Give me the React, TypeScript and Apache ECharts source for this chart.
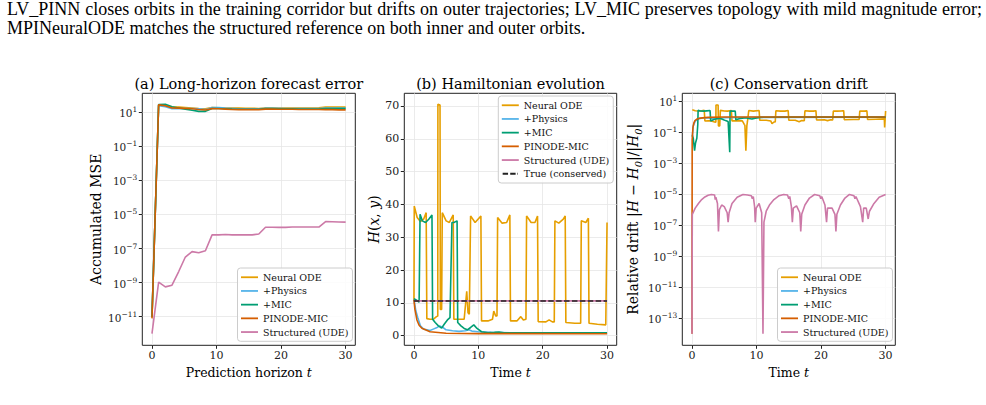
import React, { useEffect, useRef } from 'react';
import * as echarts from 'echarts';

const SERIF = "'DejaVu Serif', serif";
const NAMES = ['Neural ODE', '+Physics', '+MIC', 'PINODE-MIC', 'Structured (UDE)'];
const TRUE_NAME = 'True (conserved)';
const COLORS = ['#E69F00', '#56B4E9', '#009E73', '#D55E00', '#CC79A7'];

const CAPTION_1 =
  'LV_PINN closes orbits in the training corridor but drifts on outer trajectories; LV_MIC preserves topology with mild magnitude error;';
const CAPTION_2 = 'MPINeuralODE matches the structured reference on both inner and outer orbits.';

const TITLES = ['(a) Long-horizon forecast error', '(b) Hamiltonian evolution', '(c) Conservation drift'];

const X_TICKS = [0, 10, 20, 30];
const A_TICKS = [-11, -9, -7, -5, -3, -1, 1]; // log10 of accumulated MSE
const B_TICKS = [0, 10, 20, 30, 40, 50, 60, 70];
const C_TICKS = [-13, -11, -9, -7, -5, -3, -1, 1]; // log10 of relative drift

// (a) prediction horizon and log10 accumulated MSE
const horizon = [0, 1.03, 2.07, 3.1, 4.14, 5.17, 6.21, 7.24, 8.28, 9.31, 10.34, 11.38, 12.41, 13.45, 14.48, 15.52,
  16.55, 17.59, 18.62, 19.66, 20.69, 21.72, 22.76, 23.79, 24.83, 25.86, 26.9, 27.93, 28.97, 30];
const mseNeural = [-11.0, 1.42, 1.38, 1.32, 1.3, 1.28, 1.25, 1.22, 1.2, 1.27, 1.26, 1.25, 1.24, 1.24, 1.23, 1.23,
  1.22, 1.25, 1.25, 1.25, 1.25, 1.25, 1.25, 1.25, 1.25, 1.26, 1.3, 1.3, 1.3, 1.3];
const msePhysics = [-11.0, 1.38, 1.32, 1.2, 1.2, 1.22, 1.22, 1.2, 1.15, 1.27, 1.27, 1.24, 1.22, 1.2, 1.2, 1.2,
  1.2, 1.23, 1.23, 1.23, 1.22, 1.22, 1.22, 1.22, 1.22, 1.22, 1.24, 1.24, 1.24, 1.24];
const mseMic = [-11.0, 1.45, 1.47, 1.32, 1.25, 1.18, 1.12, 1.05, 1.05, 1.22, 1.22, 1.2, 1.18, 1.17, 1.17, 1.17,
  1.17, 1.21, 1.21, 1.2, 1.2, 1.2, 1.19, 1.19, 1.19, 1.19, 1.22, 1.22, 1.22, 1.21];
const msePinode = [-11.1, 1.43, 1.38, 1.25, 1.24, 1.22, 1.2, 1.16, 1.13, 1.21, 1.2, 1.18, 1.16, 1.15, 1.15, 1.15,
  1.15, 1.18, 1.18, 1.17, 1.17, 1.17, 1.16, 1.16, 1.16, 1.16, 1.15, 1.15, 1.14, 1.14];
const mseUde = [-12.0, -8.97, -9.25, -9.15, -8.35, -7.5, -7.18, -7.25, -7.13, -6.2, -6.2, -6.18, -6.2, -6.2, -6.2,
  -6.2, -6.15, -5.75, -5.75, -5.76, -5.76, -5.74, -5.74, -5.74, -5.74, -5.74, -5.42, -5.43, -5.44, -5.45];

// (b) [time, H(x,y)]
const hNeural = [[0, 10.6], [0.05, 39.5], [0.5, 36], [1.0, 34.8], [1.5, 35.5], [1.9, 37.5], [2.0, 5.2], [2.5, 5.0],
  [3.0, 5.0], [3.5, 5.8], [3.7, 6], [3.72, 70.5], [4.05, 70.3], [4.1, 8], [4.3, 8], [4.4, 37.5], [5, 35], [5.5, 34.5],
  [6.1, 36.8], [6.2, 5], [7, 5], [7.8, 5], [8.2, 13.5], [8.4, 7], [8.6, 6.5], [8.8, 36.5], [9.5, 34.5], [10.4, 36.5],
  [10.5, 4.5], [11.5, 4.5], [12.2, 5], [12.4, 7.5], [12.7, 6], [12.9, 6], [13.0, 36], [13.7, 34.3], [14.4, 34.5],
  [14.9, 36.8], [15.0, 4.5], [16, 4.5], [16.6, 5.8], [17.0, 4.8], [17.4, 5], [17.5, 36.5], [18.2, 34.5], [18.8, 34.5],
  [19.2, 36.5], [19.3, 4.3], [20.5, 4.2], [21, 4.8], [21.5, 4.2], [21.8, 4.2], [21.9, 35], [22.5, 34.3], [23.2, 35.5],
  [23.5, 36.5], [23.6, 4], [25, 3.8], [25.9, 3.8], [26.0, 35], [26.7, 34.5], [27.1, 35.8], [27.2, 3.8], [28.5, 3.5],
  [29.8, 3.3], [30, 34.5]];
const hPhysics = [[0, 11.1], [0.3, 7.5], [0.6, 5.5], [1.0, 3], [1.5, 2], [2.0, 1.8], [2.5, 1.6], [3.0, 2.0], [3.5, 2.4],
  [4.0, 3.0], [4.5, 2.5], [5.0, 1.8], [6, 1.5], [7, 1.3], [8, 1.5], [8.5, 1.8], [9, 1.4], [10, 1.2], [12, 1.0],
  [15, 0.9], [30, 0.85]];
const hMic = [[0, 11.3], [0.4, 10.8], [0.8, 10.2], [0.95, 37], [1.3, 35], [1.8, 34.5], [2.3, 35.5], [2.8, 36.8],
  [2.9, 5], [3.3, 4], [3.8, 3], [4.3, 2.3], [4.7, 3.5], [5.2, 4.8], [5.6, 5.5], [5.9, 34.5], [6.2, 34.5], [6.7, 35],
  [6.8, 4], [7.3, 3], [7.8, 2.2], [8.3, 1.8], [8.8, 2.5], [9.3, 3.3], [9.8, 2.2], [10.5, 1.2], [11.5, 0.9],
  [12.5, 1.0], [13.2, 1.1], [14, 0.9], [30, 0.85]];
const hPinode = [[0, 10.9], [0.15, 8], [0.46, 4.8], [0.8, 3.2], [1.24, 2.25], [2.5, 1.2], [5, 0.75], [10, 0.62],
  [30, 0.6]];
const hUde = [[0, 10.62], [10, 10.62], [20, 10.62], [30, 10.62]];
const hTrue = [[0, 10.6], [30, 10.6]];

// (c) [time, log10 relative drift]
const dNeural = [[0.05, 0.44], [0.5, 0.38], [1.0, 0.36], [1.5, 0.37], [1.9, 0.40], [2.0, -0.29], [2.5, -0.28],
  [3.0, -0.28], [3.5, -0.35], [3.7, -0.37], [3.72, 0.75], [4.05, 0.75], [4.1, -0.61], [4.3, -0.61], [4.4, 0.40],
  [5, 0.36], [5.5, 0.35], [6.1, 0.39], [6.2, -0.28], [7, -0.28], [7.8, -0.28], [8.1, -0.5], [8.2, -0.57],
  [8.35, -2.2], [8.5, -0.6], [8.6, -0.3], [8.8, 0.39], [9.5, 0.35], [10.4, 0.39], [10.5, -0.24], [11.5, -0.24],
  [12.2, -0.28], [12.4, -0.46], [12.7, -0.35], [12.9, -0.35], [13.0, 0.38], [13.7, 0.35], [14.4, 0.35], [14.9, 0.39],
  [15.0, -0.24], [16, -0.24], [16.6, -0.33], [17.0, -0.26], [17.4, -0.27], [17.5, 0.38], [18.2, 0.35], [18.8, 0.35],
  [19.2, 0.38], [19.3, -0.22], [20.5, -0.21], [21, -0.26], [21.5, -0.21], [21.8, -0.21], [21.9, 0.36], [22.5, 0.35],
  [23.2, 0.37], [23.5, 0.38], [23.6, -0.2], [25, -0.19], [25.9, -0.19], [26.0, 0.36], [26.7, 0.35], [27.1, 0.37],
  [27.2, -0.19], [28.5, -0.17], [29.8, -0.15], [29.85, -0.7], [30, 0.36]];
const dPhysics = [[0.05, -1.3], [0.2, -0.6], [0.5, -0.3], [1.0, -0.14], [2, -0.08], [3, -0.1], [4, -0.14], [5, -0.08],
  [7, -0.06], [10, -0.05], [30, -0.035]];
const dMic = [[0.05, -1.2], [0.2, -1.4], [0.4, -2.2], [0.55, -1.7], [0.75, -1.4], [0.9, -0.5], [0.95, 0.40],
  [1.3, 0.36], [1.8, 0.35], [2.3, 0.37], [2.8, 0.39], [2.9, -0.28], [3.3, -0.21], [3.8, -0.14], [4.3, -0.11],
  [4.7, -0.17], [5.2, -0.26], [5.6, -0.32], [5.85, -2.3], [5.9, 0.35], [6.2, 0.35], [6.7, 0.36], [6.8, -0.21],
  [7.3, -0.14], [7.8, -0.1], [8.3, -0.08], [8.8, -0.12], [9.3, -0.16], [9.8, -0.1], [10.5, -0.05], [12, -0.04],
  [14, -0.035], [30, -0.035]];
const dPinode = [[0, -14], [0.03, -1.5], [0.15, -0.7], [0.3, -0.4], [0.46, -0.26], [0.8, -0.15], [1.24, -0.1],
  [2.5, -0.05], [5, -0.03], [10, -0.027], [30, -0.025]];
const dUde = [[0, -14], [0.05, -6.3], [0.5, -5.9], [1, -5.6], [1.5, -5.35], [2, -5.18], [2.5, -5.07], [3, -5.02],
  [3.5, -5.05], [3.6, -5.35], [3.7, -5.2], [3.95, -5.6], [4.1, -7.4], [4.25, -6.0], [4.6, -5.7], [5, -5.8],
  [5.45, -6.2], [5.6, -6.8], [5.75, -6.2], [6.2, -5.6], [7, -5.2], [7.9, -5.02], [8.6, -5.05], [9.2, -5.1],
  [9.35, -5.3], [9.5, -5.15], [9.7, -5.8], [9.8, -6.8], [9.95, -5.9], [10.4, -5.6], [10.8, -6.2], [11.0, -14],
  [11.15, -6.8], [11.5, -6.1], [12, -5.7], [12.7, -5.35], [13.5, -5.1], [14.2, -5.02], [14.8, -5.05], [15.0, -5.3],
  [15.15, -5.15], [15.4, -5.8], [15.55, -6.8], [15.7, -5.9], [16.2, -5.75], [16.7, -6.2], [16.85, -7.4], [17.0, -6.3],
  [17.5, -5.7], [18.2, -5.25], [19.0, -5.02], [19.8, -5.1], [19.95, -5.3], [20.1, -5.15], [20.6, -5.7], [20.85, -6.8],
  [21.0, -5.9], [21.7, -5.9], [22.15, -6.3], [22.3, -7.4], [22.45, -6.3], [23, -5.7], [23.7, -5.25], [24.4, -5.02],
  [25.1, -5.1], [25.25, -5.3], [25.4, -5.15], [26.1, -5.8], [26.45, -6.8], [26.6, -5.9], [27.0, -5.9], [27.3, -6.6],
  [27.5, -6.1], [28.2, -5.6], [29, -5.2], [30, -5.02]];

const GRIDS = [
  { left: 142.3, top: 93.3, width: 213, height: 252 },
  { left: 404.3, top: 93.3, width: 212.4, height: 252 },
  { left: 682.3, top: 93.3, width: 213, height: 252 },
];

const TICK_COLOR = '#222';
const GRID_LINE = { show: true, lineStyle: { color: '#e6e6e6', width: 0.8 } };
const DASH_ICON = 'path://M0,0H6V2H0Z M8.4,0H14.4V2H8.4Z M16.4,0H17V2H16.4Z';

function pow10Label(v: number) {
  const n = Math.round(v);
  const s = n < 0 ? '\u2212' + Math.abs(n) : String(n);
  return `{b|10}{s|${s}}`;
}

const POW_RICH = {
  b: { fontFamily: SERIF, fontSize: 10.5, color: TICK_COLOR, verticalAlign: 'bottom' },
  s: { fontFamily: SERIF, fontSize: 7.5, color: TICK_COLOR, verticalAlign: 'top', padding: [0, 0, 5, 0] },
};

function nameRich(size: number) {
  return {
    r: { fontFamily: SERIF, fontSize: size, color: '#000', verticalAlign: 'top' },
    i: { fontFamily: SERIF, fontSize: size, color: '#000', fontStyle: 'italic', verticalAlign: 'top' },
    sub: { fontFamily: SERIF, fontSize: size * 0.7, color: '#000', fontStyle: 'italic', verticalAlign: 'top', padding: [size * 0.5, 0, 0, 0] },
  };
}

function xAxis(i: number, name: string) {
  return {
    gridIndex: i, type: 'value', min: -1.5, max: 31.5,
    axisLine: { show: false, onZero: false },
    axisTick: { show: true, length: 3.5, customValues: X_TICKS, lineStyle: { color: TICK_COLOR } },
    axisLabel: { customValues: X_TICKS, fontFamily: SERIF, fontSize: 11, color: TICK_COLOR, margin: 5 },
    splitLine: GRID_LINE,
    name, nameLocation: 'middle', nameGap: 17, nameTextStyle: { rich: nameRich(12.5) },
  };
}

function yAxis(i: number, min: number, max: number, ticks: number[], log: boolean, name: string, gap: number) {
  return {
    gridIndex: i, type: 'value', min, max,
    axisLine: { show: false, onZero: false },
    axisTick: { show: true, length: 3.5, customValues: ticks, lineStyle: { color: TICK_COLOR } },
    axisLabel: log
      ? { customValues: ticks, formatter: pow10Label, rich: POW_RICH, margin: 5 }
      : { customValues: ticks, fontFamily: SERIF, fontSize: 11, color: TICK_COLOR, margin: 5 },
    splitLine: GRID_LINE,
    name, nameLocation: 'middle', nameGap: gap, nameTextStyle: { rich: nameRich(14) },
  };
}

function line(name: string, color: string, i: number, data: number[][], extra: any = {}) {
  return {
    type: 'line', name, xAxisIndex: i, yAxisIndex: i, data, symbol: 'none', showSymbol: false,
    lineStyle: { color, width: 1.6, ...(extra.lineStyle || {}) }, itemStyle: { color },
    z: extra.z || 2, silent: true,
  };
}

function legend(left: number, top: number, names: string[]) {
  return {
    orient: 'vertical', left, top, itemWidth: 17, itemHeight: 1.8, itemGap: 1.2, icon: 'rect',
    padding: [3, 4, 3, 3.5], backgroundColor: 'rgba(255,255,255,0.85)', borderColor: '#cccccc', borderWidth: 1,
    borderRadius: 3, selectedMode: false,
    data: names.map((n) => (n === TRUE_NAME ? { name: n, icon: DASH_ICON } : { name: n })),
    textStyle: { fontFamily: SERIF, fontSize: 9.5, lineHeight: 12.5, color: '#111' },
  };
}

export default function App() {
  const ref = useRef<HTMLDivElement>(null);
  useEffect(() => {
    const chart = echarts.init(ref.current!, null, { renderer: 'svg' });
    const aSeries = [mseNeural, msePhysics, mseMic, msePinode, mseUde].map((arr, k) =>
      line(NAMES[k], COLORS[k], 0, horizon.map((t, j) => [t, arr[j]]), { z: 2 + k }));
    const bSeries = [hNeural, hPhysics, hMic, hPinode, hUde].map((arr, k) => line(NAMES[k], COLORS[k], 1, arr, { z: 2 + k }));
    bSeries.push(line(TRUE_NAME, '#222222', 1, hTrue, { z: 8, lineStyle: { type: [5.5, 2.4], width: 1.5 } }));
    const cSeries = [dNeural, dPhysics, dMic, dPinode, dUde].map((arr, k) => line(NAMES[k], COLORS[k], 2, arr, { z: 2 + k }));

    const option: any = {
      animation: false,
      backgroundColor: '#ffffff',
      grid: GRIDS.map((g) => ({ ...g, show: true, borderColor: '#222', borderWidth: 1, backgroundColor: 'transparent', containLabel: false })),
      xAxis: [
        xAxis(0, '{r|Prediction horizon }{i|t}'),
        xAxis(1, '{r|Time }{i|t}'),
        xAxis(2, '{r|Time }{i|t}'),
      ],
      yAxis: [
        yAxis(0, -12.68, 2.11, A_TICKS, true, '{r|Accumulated MSE}', 39),
        yAxis(1, -2.93, 73.87, B_TICKS, false, '{i|H}{r|(}{i|x}{r|, }{i|y}{r|)}', 20),
        yAxis(2, -14.74, 1.5, C_TICKS, true, '{r|Relative drift |}{i|H}{r| \u2212 }{i|H}{sub|0}{r||/|}{i|H}{sub|0}{r||}', 39),
      ],
      legend: [
        legend(237.5, 268, NAMES),
        legend(498.3, 96, [...NAMES, TRUE_NAME]),
        legend(777.5, 268, NAMES),
      ],
      graphic: TITLES.map((t, i) => ({
        type: 'text', x: GRIDS[i].left + GRIDS[i].width / 2, y: 84,
        style: { text: t, fill: '#000', fontFamily: SERIF, fontSize: 14.5, align: 'center', verticalAlign: 'middle' },
      })),
      series: [...aSeries, ...bSeries, ...cSeries],
    };
    chart.setOption(option);
    return () => chart.dispose();
  }, []);

  const capBase: React.CSSProperties = {
    position: 'absolute', left: 7, width: 975, fontFamily: "'Liberation Serif', 'Times New Roman', serif",
    fontSize: 18, lineHeight: '13px', color: '#000', whiteSpace: 'nowrap',
  };
  return (
    <div style={{ position: 'absolute', left: 0, top: 0, width: 986, height: 405, background: '#fff', overflow: 'hidden' }}>
      <div ref={ref} style={{ position: 'absolute', left: 0, top: 0, width: 986, height: 405 }} />
      <div style={{ ...capBase, top: 3, textAlign: 'justify', textAlignLast: 'justify' }}>{CAPTION_1}</div>
      <div style={{ ...capBase, top: 22 }}>{CAPTION_2}</div>
    </div>
  );
}
